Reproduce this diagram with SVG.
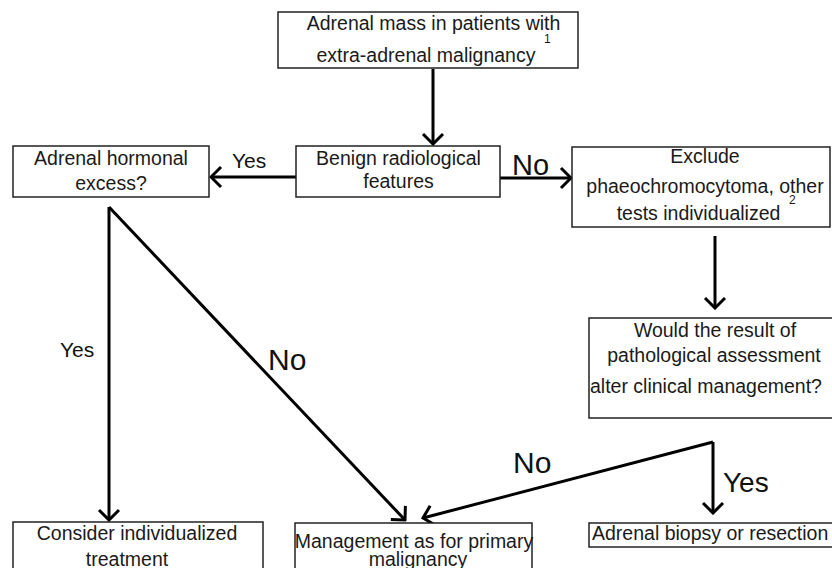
<svg xmlns="http://www.w3.org/2000/svg" width="832" height="568" viewBox="0 0 832 568">
<style>
  .box { fill: #fff; stroke: #222; stroke-width: 1.5; }
  .t { font-family: "Liberation Sans", Arial, sans-serif; font-size: 19.5px; fill: #1a1a1a; text-anchor: middle; }
  .ts { font-family: "Liberation Sans", Arial, sans-serif; font-size: 12px; fill: #1a1a1a; }
  .lbl { font-family: "Liberation Sans", Arial, sans-serif; fill: #111; }
  .c { fill: none; stroke: #000; stroke-width: 3; marker-end: url(#arr); }
</style>
<defs>
  <marker id="arr" markerUnits="userSpaceOnUse" markerWidth="14" markerHeight="24" viewBox="0 0 14 24" refX="12" refY="12" orient="auto">
    <path d="M2,2 L12,12 L2,22" fill="none" stroke="#000" stroke-width="3"/>
  </marker>
</defs>
<rect width="832" height="568" fill="#fff"/>

<g id="connectors">
  <path class="c" d="M433,69 L433,144"/>
  <path class="c" d="M296,177 L211,177"/>
  <path class="c" d="M500,178 L571,178"/>
  <path class="c" d="M109,207 L109,520"/>
  <path class="c" d="M109,207 L405,520"/>
  <path class="c" d="M715,236 L715,308"/>
  <path class="c" d="M713,442 L423,518"/>
  <path class="c" d="M713,442 L713,513"/>
  <text class="lbl" x="232" y="168" font-size="21">Yes</text>
  <text class="lbl" x="512" y="175" font-size="29">No</text>
  <text class="lbl" x="60" y="357" font-size="21">Yes</text>
  <text class="lbl" x="268" y="370" font-size="30">No</text>
  <text class="lbl" x="513" y="473" font-size="30">No</text>
  <text class="lbl" x="723" y="492" font-size="28">Yes</text>
</g>

<g id="n-top">
  <rect class="box" x="278" y="12" width="300" height="56"/>
  <text class="t" x="433.5" y="30">Adrenal mass in patients with</text>
  <text class="t" x="426" y="62">extra-adrenal malignancy</text>
  <text class="ts" x="544" y="43">1</text>
</g>

<g id="n-benign">
  <rect class="box" x="296" y="146" width="204" height="51"/>
  <text class="t" x="398.5" y="165">Benign radiological</text>
  <text class="t" x="398.5" y="188">features</text>
</g>

<g id="n-hormonal">
  <rect class="box" x="13" y="146" width="196" height="51"/>
  <text class="t" x="111" y="165">Adrenal hormonal</text>
  <text class="t" x="111" y="190">excess?</text>
</g>

<g id="n-exclude">
  <rect class="box" x="572" y="147" width="258" height="80"/>
  <text class="t" x="705" y="163">Exclude</text>
  <text class="t" x="705" y="193">phaeochromocytoma, other</text>
  <text class="t" x="698.5" y="220">tests individualized</text>
  <text class="ts" x="789" y="204">2</text>
</g>

<g id="n-would">
  <rect class="box" x="589" y="318" width="260" height="100"/>
  <text class="t" x="715" y="337">Would the result of</text>
  <text class="t" x="714" y="362">pathological assessment</text>
  <text class="t" x="590" y="393" style="text-anchor:start">alter clinical management?</text>
</g>

<g id="n-consider">
  <rect class="box" x="13" y="522" width="250" height="80"/>
  <text class="t" x="137" y="540">Consider individualized</text>
  <text class="t" x="127" y="566">treatment</text>
</g>

<g id="n-management">
  <rect class="box" x="295" y="523" width="237" height="80"/>
  <text class="t" x="414" y="548">Management as for primary</text>
  <text class="t" x="418" y="566">malignancy</text>
</g>

<g id="n-biopsy">
  <rect class="box" x="589" y="523" width="260" height="24"/>
  <text class="t" x="592" y="540" style="text-anchor:start">Adrenal biopsy or resection</text>
</g>
</svg>
